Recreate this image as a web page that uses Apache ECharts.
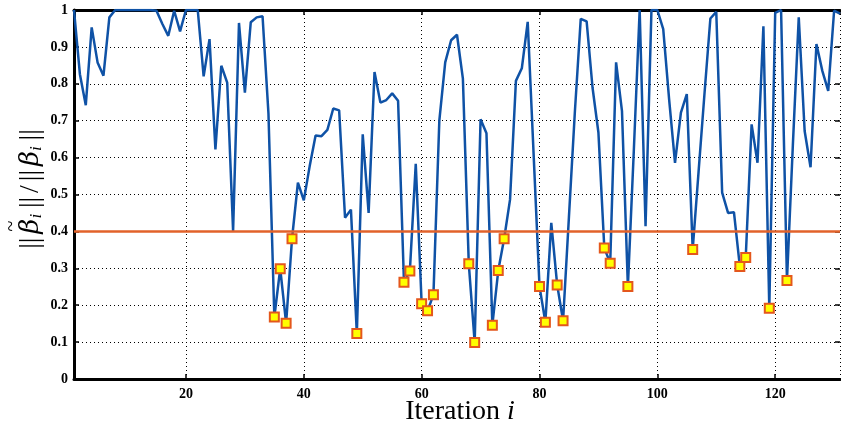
<!DOCTYPE html>
<html>
<head>
<meta charset="utf-8">
<title>ratio per iteration</title>
<script src="https://cdn.jsdelivr.net/npm/echarts@6/dist/echarts.min.js"></script>
<style>
	html,body{margin:0;padding:0;background:#fff;}
	#main{width:841px;height:432px;}
</style>
</head>
<body>
<div id="main"></div>
<script>
// ratio values for iteration 1..131
var ratioValues = [
	1.0, 0.826, 0.742, 0.953, 0.858, 0.822, 0.98, 1.0, 1.0, 1.0,
	1.0, 1.0, 1.0, 1.0, 0.998, 0.962, 0.930, 0.998, 0.942, 1.0,
	1.0, 1.0, 0.82, 0.921, 0.622, 0.849, 0.803, 0.401, 0.965, 0.776,
	0.967, 0.98, 0.983, 0.72, 0.168, 0.299, 0.151, 0.380, 0.532, 0.484,
	0.577, 0.660, 0.658, 0.675, 0.733, 0.728, 0.437, 0.459, 0.123, 0.663,
	0.450, 0.832, 0.749, 0.756, 0.774, 0.754, 0.262, 0.293, 0.583, 0.204,
	0.185, 0.228, 0.70, 0.858, 0.918, 0.933, 0.814, 0.312, 0.099, 0.704,
	0.666, 0.146, 0.294, 0.380, 0.486, 0.808, 0.842, 0.968, 0.61, 0.251,
	0.154, 0.423, 0.255, 0.158, 0.44, 0.723, 0.976, 0.969, 0.79, 0.668,
	0.355, 0.314, 0.858, 0.726, 0.251, 0.616, 1.0, 0.414, 1.0, 1.0,
	0.948, 0.758, 0.586, 0.722, 0.772, 0.351, 0.562, 0.773, 0.977, 0.995,
	0.505, 0.450, 0.452, 0.305, 0.329, 0.69, 0.586, 0.956, 0.192, 0.992,
	1.0, 0.267, 0.634, 0.98, 0.672, 0.574, 0.908, 0.835, 0.781, 0.998,
	0.99
];
var firstIteration = 1;
var threshold = 0.4;
var yTicks = [0, 0.1, 0.2, 0.3, 0.4, 0.5, 0.6, 0.7, 0.8, 0.9, 1];

var lineData = [], lowData = [];
ratioValues.forEach(function(v, idx){
	var it = firstIteration + idx;
	lineData.push([it, v]);
	if(v < threshold){
		lowData.push([it, v]);
	}
});
var lastIteration = firstIteration + ratioValues.length - 1;

var tickFont = {color:'#000', fontFamily:'"Liberation Serif", serif', fontWeight:'bold', fontSize:14};
var dotted = {color:'#000', width:1, type:[1,3]};

var myChart = echarts.init(document.getElementById('main'));
var option = {
	animation: false,
	grid: {left:74, right:1, top:10, bottom:53},
	xAxis: [
		{
			type:'value', min:firstIteration, max:lastIteration, splitNumber:6,
			axisLine:{show:true, onZero:false, lineStyle:{color:'#000', width:3}},
			axisTick:{show:true, inside:true, length:5, lineStyle:{color:'#000', width:1.5}},
			axisLabel:Object.assign({margin:8, showMinLabel:false, showMaxLabel:false}, tickFont),
			splitLine:{show:true, lineStyle:dotted}
		},
		{
			type:'value', position:'top', min:firstIteration, max:lastIteration, splitNumber:6,
			axisLine:{show:true, onZero:false, lineStyle:{color:'#000', width:3}},
			axisTick:{show:true, inside:true, length:5, lineStyle:{color:'#000', width:1.5}},
			axisLabel:{show:false},
			splitLine:{show:false}
		}
	],
	yAxis: [
		{
			type:'value', min:yTicks[0], max:yTicks[yTicks.length-1], interval:0.1,
			axisLine:{show:true, onZero:false, lineStyle:{color:'#000', width:3}},
			axisTick:{show:true, inside:true, length:5, lineStyle:{color:'#000', width:1.5}},
			axisLabel:Object.assign({margin:6}, tickFont),
			splitLine:{show:true, lineStyle:dotted}
		},
		{
			type:'value', position:'right', min:yTicks[0], max:yTicks[yTicks.length-1], interval:0.1,
			axisLine:{show:false},
			axisTick:{show:true, inside:true, length:5, lineStyle:{color:'#000', width:1.5}},
			axisLabel:{show:false},
			splitLine:{show:false}
		}
	],
	series: [
		{
			name:'ratio', type:'line', data:lineData, showSymbol:false, z:2,
			lineStyle:{color:'#0f52a6', width:2.5}
		},
		{
			name:'threshold', type:'line', showSymbol:false, z:3,
			data:[[firstIteration, threshold], [lastIteration, threshold]],
			lineStyle:{color:'#e2622a', width:2.5}
		},
		{
			name:'below', type:'scatter', data:lowData, symbol:'rect', symbolSize:9, z:4,
			itemStyle:{color:'#ffff00', borderColor:'#e4571c', borderWidth:2, opacity:1}
		}
	],
	graphic: [
		{
			type:'text', x:460, y:412,
			style:{
				text:'{r|Iteration }{it|i}',
				align:'center', verticalAlign:'middle',
				rich:{
					r:{fontFamily:'"Liberation Serif", serif', fontSize:28, fill:'#000'},
					it:{fontFamily:'"Liberation Serif", serif', fontStyle:'italic', fontSize:28, fill:'#000'}
				}
			}
		},
		{
			type:'text', x:31, y:189, rotation:Math.PI/2,
			style:{
				text:'{bar|||}{b|β}{s|i}{bar|||}{sl|/}{bar|||}{b|β}{s|i}{bar|||}',
				align:'center', verticalAlign:'middle',
				rich:{
					bar:{fontFamily:'"Liberation Serif", serif', fontSize:28, width:19, align:'center', fill:'#000'},
					b:{fontFamily:'"DejaVu Serif", serif', fontStyle:'italic', fontSize:26, fill:'#000'},
					s:{fontFamily:'"Liberation Serif", serif', fontStyle:'italic', fontSize:17, padding:[12,2,0,0], fill:'#000'},
					sl:{fontFamily:'"Liberation Serif", serif', fontSize:28, fill:'#000'}
				}
			}
		},
		{
			// tilde over the first beta
			type:'text', x:12, y:226, rotation:Math.PI/2,
			style:{
				text:'~', align:'center', verticalAlign:'middle',
				fontFamily:'"Liberation Serif", serif', fontSize:20, fill:'#000'
			}
		}
	]
};
myChart.setOption(option);
</script>
</body>
</html>
